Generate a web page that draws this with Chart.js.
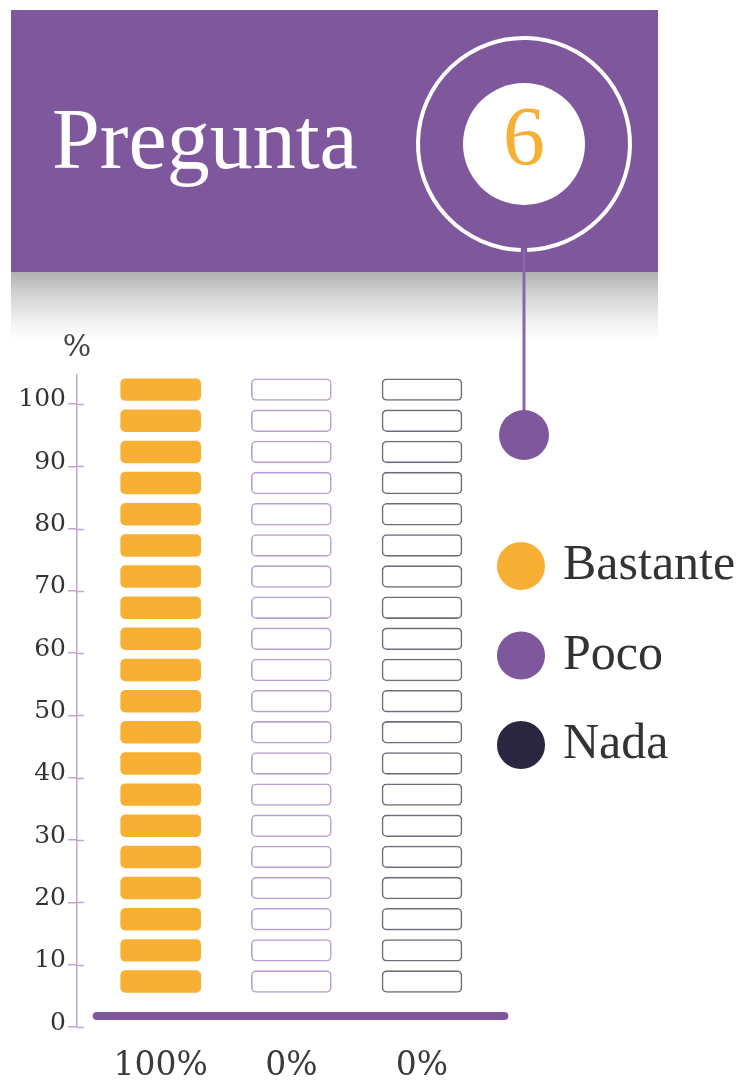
<!DOCTYPE html>
<html>
<head>
<meta charset="utf-8">
<script src="https://cdn.jsdelivr.net/npm/chart.js@4.4.1/dist/chart.umd.min.js"></script>
<style>
  html, body { margin: 0; padding: 0; background: #ffffff; }
  #wrap { width: 749px; height: 1085px; }
</style>
</head>
<body>
<div id="wrap"><canvas id="chart" width="749" height="1085"></canvas></div>
<script>
// ---- content ----
const headerTitle = 'Pregunta';
const questionNumber = '6';
const categories = ['Bastante', 'Poco', 'Nada'];
const percentages = [100, 0, 0];
const valueLabels = ['100%', '0%', '0%'];
const yTickValues = [0, 10, 20, 30, 40, 50, 60, 70, 80, 90, 100];
const axisUnit = '%';
const blockStep = 5;      // one block = 5 %
const blockCount = 20;    // 20 blocks = 100 %

// ---- styling ----
const PURPLE = '#7e579d';
const ORANGE = '#f7b034';
const NIGHT = '#2b2640';
const LAVENDER = '#bda6d6';
const LEGEND_TEXT = '#333333';
const seriesColors = [ORANGE, PURPLE, NIGHT];
const emptyBorders = ['#f7b034', '#b99fd3', '#6e6c78'];
const NUM_FONT = 'DejaVu Serif';
const TEXT_FONT = 'Liberation Serif';

// where a block sits inside its 5 % step (value units)
const BLOCK_LIFT = 5.55;
const BLOCK_SPAN = 3.5;

function blockDataset(col) {
  const filled = Math.round(percentages[col] / blockStep);
  const data = [], bg = [], bc = [], bw = [];
  for (let i = 0; i < blockCount; i++) {
    const lo = i * blockStep + BLOCK_LIFT;
    data.push({ x: col, y: [lo, lo + BLOCK_SPAN] });
    const on = i < filled;
    bg.push(on ? seriesColors[col] : '#ffffff');
    bc.push(on ? seriesColors[col] : emptyBorders[col]);
    bw.push(on ? 0 : 1.6);
  }
  return {
    label: categories[col],
    data,
    backgroundColor: bg,
    borderColor: bc,
    borderWidth: bw,
    borderRadius: 5,
    borderSkipped: false,
    grouped: false,
    barThickness: 80
  };
}

// header, connector, axis unit, tick stubs and base line
const decor = {
  id: 'decor',
  beforeDraw(chart) {
    const c = chart.ctx;
    c.save();
    // soft shadow under the header band
    const g = c.createLinearGradient(0, 272, 0, 340);
    g.addColorStop(0, '#b1b1b1');
    g.addColorStop(0.4, '#d9d9d9');
    g.addColorStop(0.75, '#f2f2f2');
    g.addColorStop(1, '#ffffff');
    c.fillStyle = g;
    c.fillRect(11, 272, 647, 68);
    // header band
    c.fillStyle = PURPLE;
    c.fillRect(11, 10, 647, 262);
    // title
    c.fillStyle = '#ffffff';
    c.font = '86px "' + TEXT_FONT + '"';
    c.textAlign = 'left';
    c.textBaseline = 'alphabetic';
    c.fillText(headerTitle, 52, 168);
    // ring with a small opening at the bottom
    const cx = 524, cy = 144;
    c.strokeStyle = '#ffffff';
    c.lineWidth = 4;
    c.beginPath();
    c.arc(cx, cy, 106, Math.PI / 2 + 0.03, Math.PI / 2 - 0.03 + Math.PI * 2);
    c.stroke();
    // inner disc with number
    c.fillStyle = '#ffffff';
    c.beginPath();
    c.arc(cx, cy, 61, 0, Math.PI * 2);
    c.fill();
    c.fillStyle = ORANGE;
    c.font = '84px "' + TEXT_FONT + '"';
    c.textAlign = 'center';
    c.fillText(questionNumber, cx, 165);
    // connector down to the dot
    c.strokeStyle = '#8a64ac';
    c.lineWidth = 3;
    c.beginPath();
    c.moveTo(cx, cy + 106);
    c.lineTo(cx, 435);
    c.stroke();
    c.fillStyle = PURPLE;
    c.beginPath();
    c.arc(cx, 435, 25, 0, Math.PI * 2);
    c.fill();
    c.restore();
  },
  afterDraw(chart) {
    const c = chart.ctx;
    const y = chart.scales.y, x = chart.scales.x, area = chart.chartArea;
    c.save();
    // unit above the value axis
    c.fillStyle = '#444444';
    c.font = '30px "' + NUM_FONT + '"';
    c.textAlign = 'center';
    c.textBaseline = 'middle';
    c.fillText(axisUnit, area.left, area.top - 27);
    // tick marks crossing into the plot
    c.strokeStyle = LAVENDER;
    c.lineWidth = 1.5;
    y.ticks.forEach(t => {
      const py = Math.round(y.getPixelForValue(t.value)) + 0.5;
      c.beginPath();
      c.moveTo(area.left, py);
      c.lineTo(area.left + 7, py);
      c.stroke();
    });
    // thick base line
    const by = y.getPixelForValue(0) - 11;
    c.strokeStyle = PURPLE;
    c.lineWidth = 8;
    c.lineCap = 'round';
    c.beginPath();
    c.moveTo(x.getPixelForValue(-0.49), by);
    c.lineTo(x.getPixelForValue(2.63), by);
    c.stroke();
    c.restore();
  }
};

new Chart(document.getElementById('chart'), {
  type: 'bar',
  data: { datasets: categories.map((_, i) => blockDataset(i)) },
  options: {
    responsive: false,
    animation: false,
    layout: { padding: { top: 375, bottom: 0, left: 17, right: 8.5 } },
    scales: {
      x: {
        type: 'linear',
        min: -0.6406,
        max: 2.3253,
        offset: false,
        grid: { display: false, drawTicks: false },
        border: { display: false },
        afterBuildTicks: s => { s.ticks = valueLabels.map((_, i) => ({ value: i })); },
        afterFit: s => { s.height = 58; },
        ticks: {
          callback: v => valueLabels[v],
          font: { family: NUM_FONT, size: 33 },
          color: '#3a3a3a',
          padding: 20,
          autoSkip: false,
          maxRotation: 0
        }
      },
      y: {
        min: 0,
        max: 104.65,
        grid: { drawOnChartArea: false, color: LAVENDER, lineWidth: 1.5, tickLength: 9 },
        border: { color: LAVENDER, width: 1.5 },
        afterBuildTicks: s => { s.ticks = yTickValues.map(v => ({ value: v })); },
        afterFit: s => { s.width = 60; },
        ticks: {
          font: { family: NUM_FONT, size: 25 },
          color: '#333333',
          padding: 2,
          labelOffset: -4
        }
      }
    },
    plugins: {
      tooltip: { enabled: false },
      legend: {
        position: 'right',
        align: 'start',
        maxWidth: 276,
        title: { display: true, text: '', padding: { top: 114.5, bottom: 0 }, font: { size: 10 } },
        labels: {
          usePointStyle: true,
          pointStyle: 'circle',
          boxWidth: 34,
          boxHeight: 34,
          padding: 39.5,
          color: LEGEND_TEXT,
          font: { family: TEXT_FONT, size: 50 },
          generateLabels: () => categories.map((name, i) => ({
            text: name,
            fillStyle: seriesColors[i],
            strokeStyle: seriesColors[i],
            fontColor: LEGEND_TEXT,
            lineWidth: 0,
            pointStyle: 'circle',
            hidden: false,
            datasetIndex: i
          }))
        }
      }
    }
  },
  plugins: [decor]
});
</script>
</body>
</html>
